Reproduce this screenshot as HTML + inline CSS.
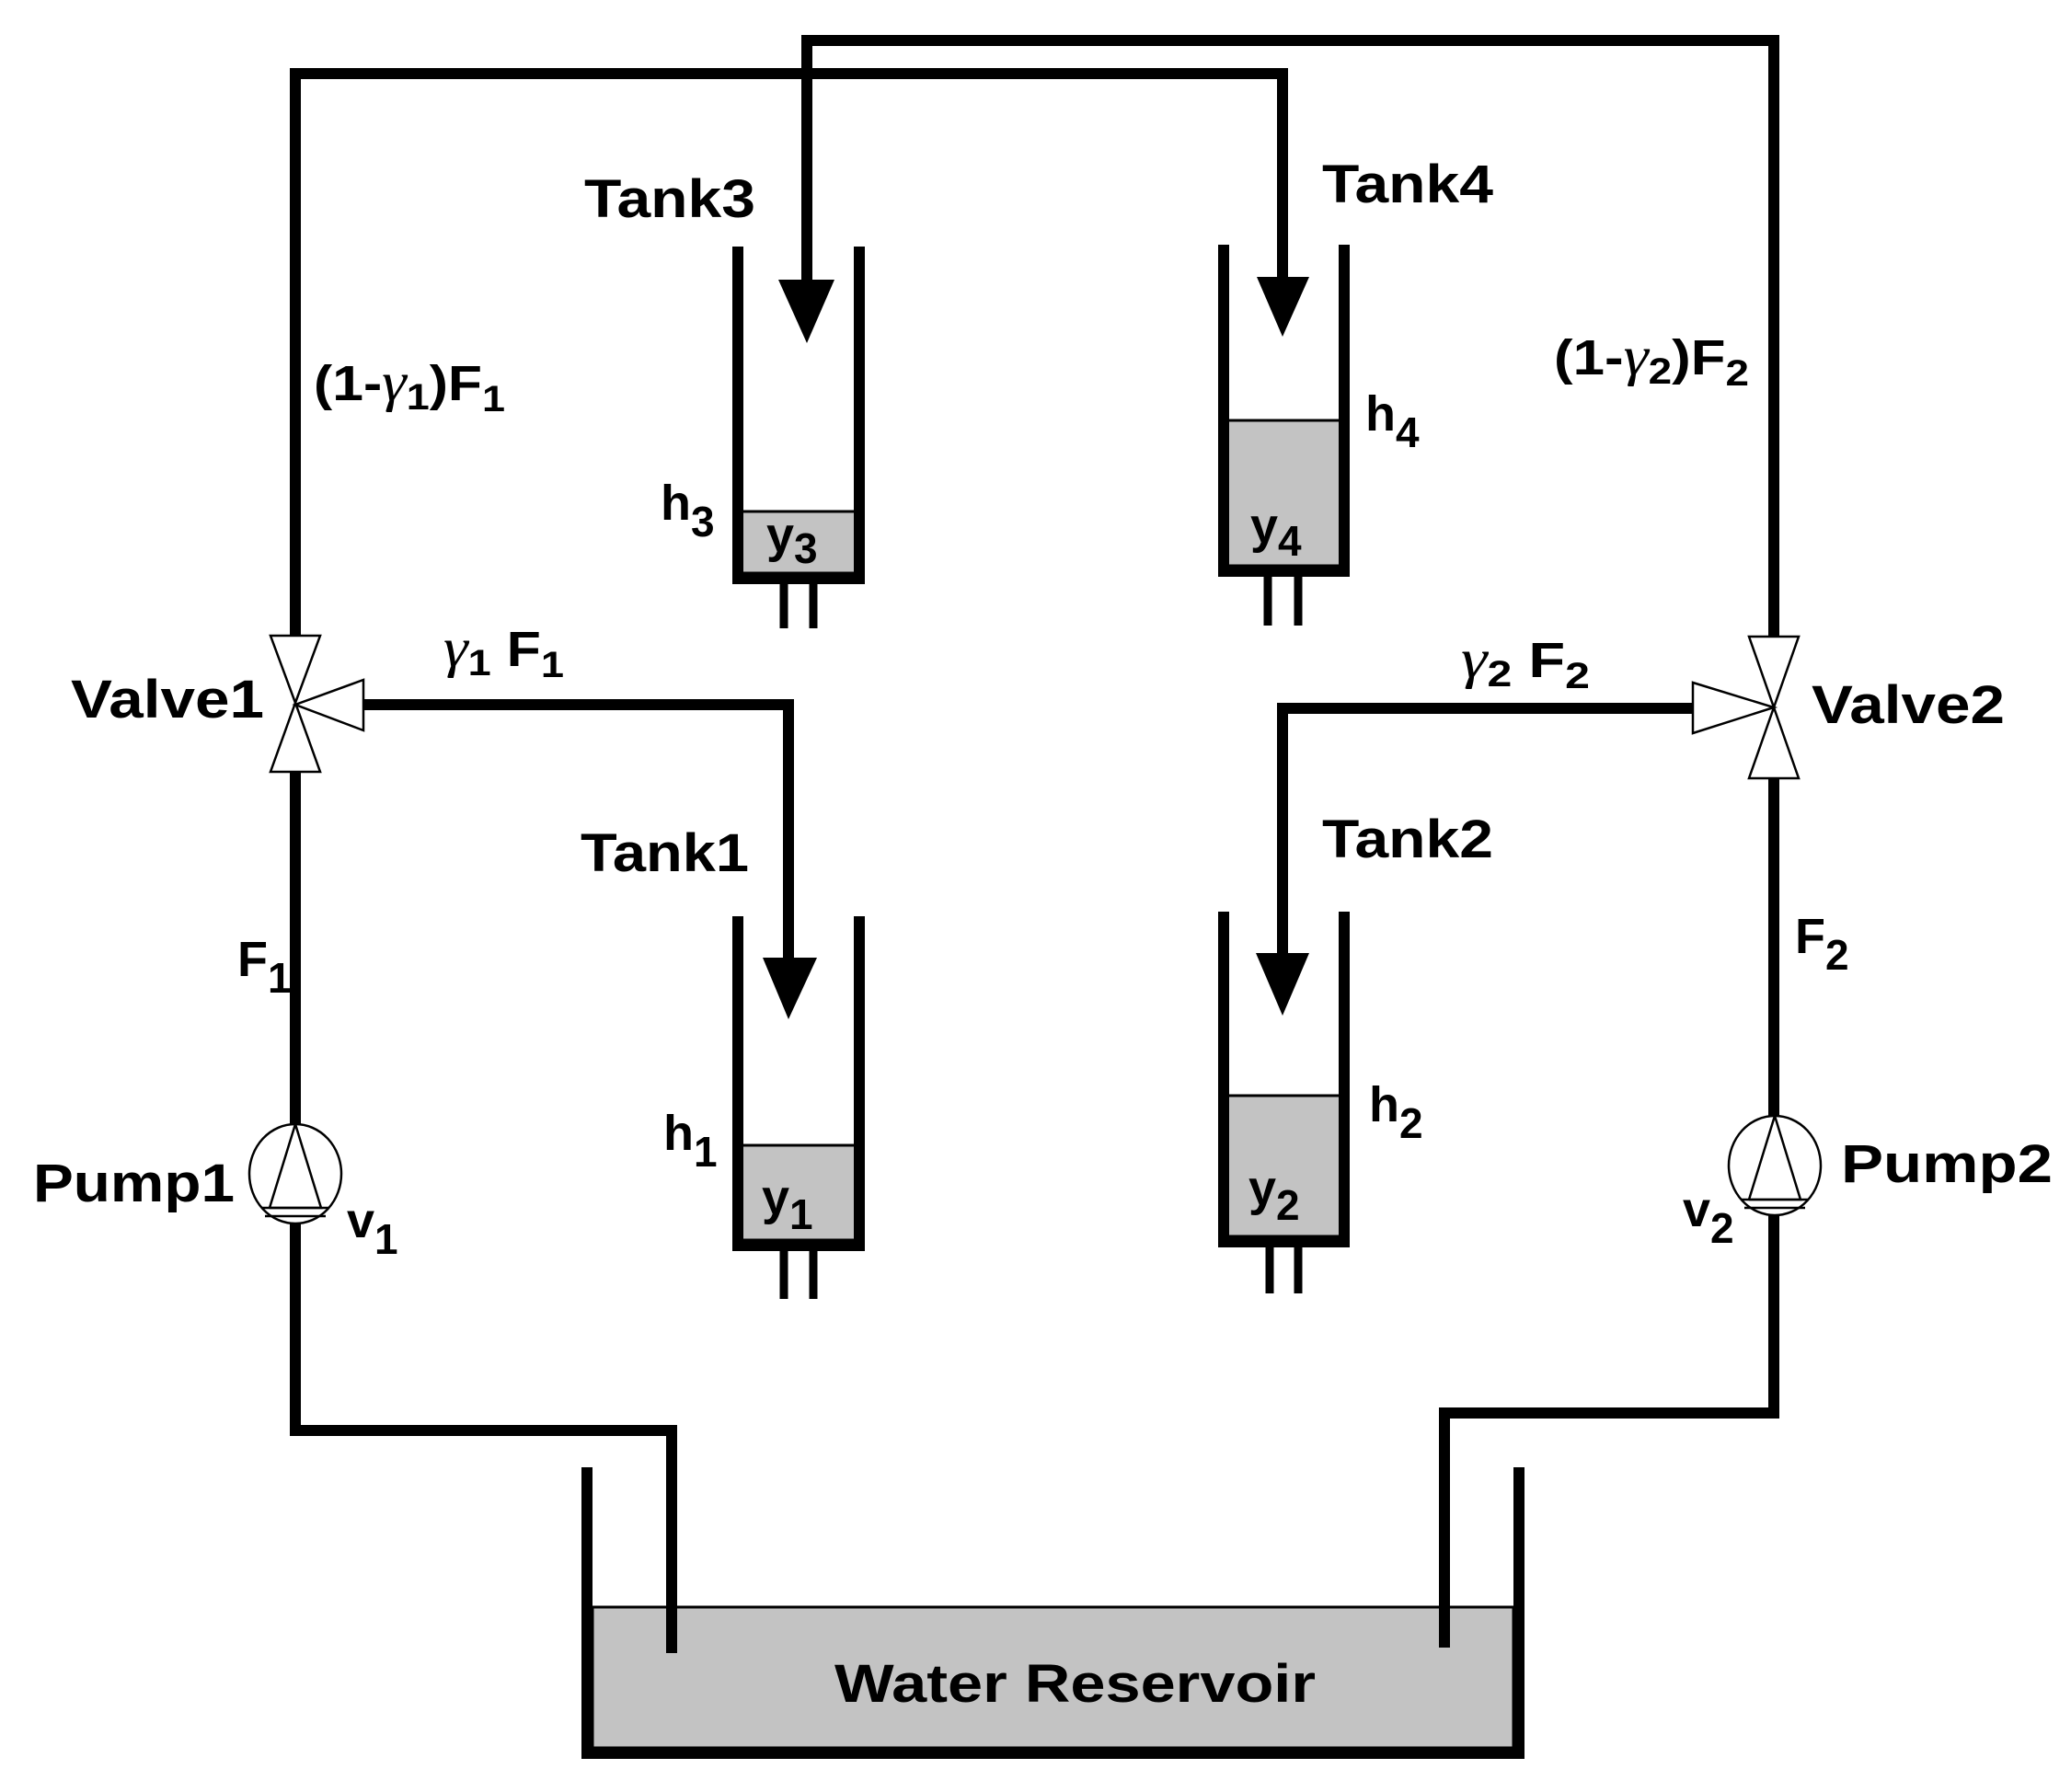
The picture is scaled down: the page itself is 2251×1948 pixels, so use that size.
<!DOCTYPE html>
<html><head><meta charset="utf-8"><style>
html,body{margin:0;padding:0;background:#fff}
svg{display:block}
text{font-family:"Liberation Sans",sans-serif;font-weight:bold;fill:#000}
.g{font-family:"Liberation Serif",serif;font-style:italic;font-weight:normal}
</style></head><body>
<svg width="2251" height="1948" viewBox="0 0 2251 1948" xmlns="http://www.w3.org/2000/svg">
<!-- water fills first -->
<g stroke="#000">
<rect x="802" y="556" width="132" height="67" fill="#c3c3c3" stroke-width="3"/>
<rect x="1330" y="457" width="131" height="158" fill="#c3c3c3" stroke-width="3"/>
<rect x="802" y="1245" width="132" height="103" fill="#c3c3c3" stroke-width="3"/>
<rect x="1330" y="1191" width="131" height="153" fill="#c3c3c3" stroke-width="3"/>
<rect x="644" y="1747" width="1001" height="153" fill="#c3c3c3" stroke-width="3"/>
</g>
<g fill="none" stroke="#000" stroke-width="12" stroke-linejoin="miter" stroke-linecap="butt">
<polyline points="321,691 321,80 1394,80 1394,305"/>
<polyline points="877,305 877,44 1928,44 1928,692"/>
<polyline points="395,766 857,766 857,1045"/>
<polyline points="1840,770 1394,770 1394,1040"/>
<line x1="321" y1="839" x2="321" y2="1222"/>
<polyline points="321,1330 321,1555 730,1555 730,1797"/>
<line x1="1928" y1="846" x2="1928" y2="1213"/>
<polyline points="1928,1321 1928,1536 1570,1536 1570,1791"/>
</g>
<g fill="#000">
<polygon points="846,304 907,304 877,373"/>
<polygon points="1366,301 1423,301 1394,366"/>
<polygon points="829,1041 888,1041 857,1108"/>
<polygon points="1365,1036 1423,1036 1394,1104"/>
</g>
<g fill="none" stroke="#000" stroke-width="12">
<polyline points="802,268 802,629 934,629 934,268"/>
<polyline points="1330,266 1330,621 1461,621 1461,266"/>
<polyline points="802,996 802,1354 934,1354 934,996"/>
<polyline points="1330,991 1330,1350 1461,1350 1461,991"/>
<polyline points="638,1595 638,1906 1651,1906 1651,1595"/>
</g>
<g stroke="#000" stroke-width="9">
<line x1="852" y1="629" x2="852" y2="683"/><line x1="884" y1="629" x2="884" y2="683"/>
<line x1="1378" y1="621" x2="1378" y2="680"/><line x1="1411" y1="621" x2="1411" y2="680"/>
<line x1="852" y1="1354" x2="852" y2="1412"/><line x1="884" y1="1354" x2="884" y2="1412"/>
<line x1="1380" y1="1350" x2="1380" y2="1406"/><line x1="1411" y1="1350" x2="1411" y2="1406"/>
</g>
<g fill="#fff" stroke="#000" stroke-width="2.5">
<polygon points="294,691 348,691 321,764"/>
<polygon points="294,839 348,839 321,764"/>
<polygon points="395,739 395,794 321,766"/>
<polygon points="1901,692 1955,692 1928,769"/>
<polygon points="1901,846 1955,846 1928,769"/>
<polygon points="1840,742 1840,797 1928,769"/>
</g>
<g fill="#fff" stroke="#000" stroke-width="2.5">
<ellipse cx="321" cy="1276" rx="50" ry="54"/>
<polyline points="293,1313 321,1222 349,1313 293,1313" fill="none"/>
<line x1="285" y1="1313" x2="357" y2="1313"/>
<line x1="288" y1="1322" x2="354" y2="1322"/>
<ellipse cx="1929" cy="1267" rx="50" ry="54"/>
<polyline points="1901,1304 1929,1213 1957,1304 1901,1304" fill="none"/>
<line x1="1893" y1="1304" x2="1965" y2="1304"/>
<line x1="1896" y1="1313" x2="1962" y2="1313"/>
</g>
<g font-size="58">
<text x="635" y="236" textLength="186" lengthAdjust="spacingAndGlyphs">Tank3</text>
<text x="1437" y="220" textLength="186" lengthAdjust="spacingAndGlyphs">Tank4</text>
<text x="631" y="947" textLength="183" lengthAdjust="spacingAndGlyphs">Tank1</text>
<text x="1437" y="932" textLength="186" lengthAdjust="spacingAndGlyphs">Tank2</text>
<text x="77" y="780" textLength="210" lengthAdjust="spacingAndGlyphs">Valve1</text>
<text x="1969" y="786" textLength="210" lengthAdjust="spacingAndGlyphs">Valve2</text>
<text x="36" y="1306" textLength="219" lengthAdjust="spacingAndGlyphs">Pump1</text>
<text x="2001" y="1285" textLength="230" lengthAdjust="spacingAndGlyphs">Pump2</text>
<text x="907" y="1850" textLength="523" lengthAdjust="spacingAndGlyphs">Water Reservoir</text>
</g>
<g font-size="54">
<text x="341" y="435" textLength="208" lengthAdjust="spacingAndGlyphs">(1-<tspan class="g" font-size="60">γ</tspan><tspan font-size="40" dy="10">1</tspan><tspan dy="-10">)F</tspan><tspan font-size="40" dy="12">1</tspan></text>
<text x="1689" y="407" textLength="212" lengthAdjust="spacingAndGlyphs">(1-<tspan class="g" font-size="60">γ</tspan><tspan font-size="40" dy="10">2</tspan><tspan dy="-10">)F</tspan><tspan font-size="40" dy="12">2</tspan></text>
<text x="482" y="724" textLength="131" lengthAdjust="spacingAndGlyphs"><tspan class="g" font-size="60">γ</tspan><tspan font-size="40" dy="10">1</tspan><tspan dy="-10"> F</tspan><tspan font-size="40" dy="12">1</tspan></text>
<text x="1588" y="736" textLength="140" lengthAdjust="spacingAndGlyphs"><tspan class="g" font-size="60">γ</tspan><tspan font-size="40" dy="10">2</tspan><tspan dy="-10">  F</tspan><tspan font-size="40" dy="12">2</tspan></text>
<text x="258" y="1061">F<tspan font-size="46" dy="18">1</tspan></text>
<text x="1951" y="1036">F<tspan font-size="46" dy="18">2</tspan></text>
<text x="377" y="1345">v<tspan font-size="46" dy="18">1</tspan></text>
<text x="1829" y="1333">v<tspan font-size="46" dy="18">2</tspan></text>
<text x="721" y="1250">h<tspan font-size="46" dy="18">1</tspan></text>
<text x="1488" y="1219">h<tspan font-size="46" dy="18">2</tspan></text>
<text x="718" y="565">h<tspan font-size="46" dy="18">3</tspan></text>
<text x="1484" y="468">h<tspan font-size="46" dy="18">4</tspan></text>
<text x="828" y="1320">y<tspan font-size="46" dy="16">1</tspan></text>
<text x="1357" y="1310">y<tspan font-size="46" dy="16">2</tspan></text>
<text x="833" y="600">y<tspan font-size="46" dy="12">3</tspan></text>
<text x="1359" y="590">y<tspan font-size="46" dy="14">4</tspan></text>
</g>
</svg>
</body></html>
